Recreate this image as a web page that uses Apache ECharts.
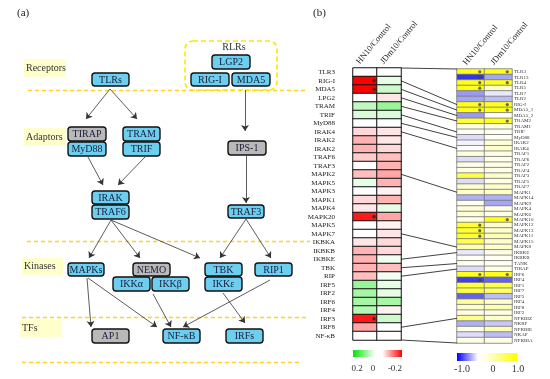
<!DOCTYPE html>
<html><head><meta charset="utf-8">
<script src="https://cdn.jsdelivr.net/npm/echarts@6/dist/echarts.min.js"></script>
<style>html,body{margin:0;padding:0;background:#fff}#c{width:550px;height:379px}</style>
</head><body><div id="c"></div>
<script>
// ---------- DATA ----------
const leftCols = ['HN10/Control', 'JDm10/Control'];
const leftGenes = ['TLR3','RIG-I','MDA5','LPG2','TRAM','TRIF','MyD88','IRAK4','IRAK2','IRAK2','TRAF6','TRAF3','MAPK2','MAPK5','MAPK3','MAPK1','MAPK4','MAPK20','MAPK5','MAPK7','IKBKA','IKBKB','IKBKE','TBK','RIP','IRF5','IRF2','IRF6','IRF4','IRF3','IRF8','NF-κB'];
const leftHN10  = [0,-0.2,-0.2,0,0.05,0.03,0,-0.03,-0.06,-0.06,-0.04,0,-0.05,0.02,0,-0.03,-0.02,-0.18,0,0,-0.02,-0.06,-0.06,-0.06,-0.05,0.08,0.07,0.07,0.06,-0.18,-0.07,0];
const leftJDm10 = [0,0.02,0.04,-0.02,0.08,0.03,0,-0.02,-0.02,-0.03,-0.05,-0.06,-0.07,-0.06,-0.01,-0.06,0.02,-0.07,-0.01,-0.02,-0.03,-0.03,0.01,-0.05,0.01,0.02,0.02,0.07,-0.01,0.04,0,0];
const leftStarsHN10 = [1,2,17,29];
const leftTicks = ['0.2','0','-0.2'];

const rightCols = ['HN10/Control', 'JDm10/Control'];
const rightGenes = ['TLR3','TLR13','TLR4','TLR5','TLR7','TLR2','RIG-I','MDA5_1','MDA5_2','TRAM2','TRAM1','TRIF','MyD88','IRAK2','IRAK4','TRAF1','TRAF6','TRAF2','TRAF4','TRAF3','TRAF5','TRAF7','MAPK1','MAPK14','MAPK9','MAPK4','MAPK6','MAPK10','MAPK12','MAPK13','MAPK11','MAPK15','MAPK8','IKBKE','IKBKB','TANK','TIRAP','IRF6','IRF4','IRF1','IRF7','IRF5','IRF4','IRF8','IRF2','NFKBIZ','NKRF','NFKBIE','NKAP','NFKBIA'];
const rightHN10  = [0.9,-0.9,0.9,0.9,-0.45,-0.4,0.9,0.9,-0.45,0.8,0.1,0.05,-0.15,-0.05,0,0.15,-0.15,0.1,0.1,0.7,-0.15,0.2,0.2,-0.35,0.05,0.15,0.15,0.1,0.8,0.8,0.8,0.7,0.3,-0.1,0.05,0.05,-0.15,0.9,-0.85,0.75,0.75,-0.7,0.4,0.2,0.1,0.45,-0.35,0.1,-0.15,0.1];
const rightJDm10 = [0.9,-0.4,0.9,0.2,-0.1,-0.3,0.9,0.9,0,0.9,0.1,0.05,0.05,0.15,0.2,0.1,0.1,0.1,0.1,0.2,0.1,0.2,0.2,-0.35,-0.4,0.1,0.1,0.9,0.2,0.2,0.3,0.2,0.2,0.1,0.05,0.05,0.1,0.9,-0.7,0.7,0.6,-0.3,0.2,0.3,0.1,0.2,-0.25,0.3,-0.3,0.1];
const rightStarsHN10 = [0,1,2,3,6,7,28,29,30,37,38];
const rightStarsJDm10 = [0,2,6,7,9,27,37];
const rightTicks = ['-1.0','0','1.0'];

// left row index -> right row index
const links = [[1,6],[2,7],[3,8],[4,9],[5,11],[6,12],[7,14],[12,22],[19,32],[22,33],[23,35],[24,36],[30,45]];

// pathway diagram
const diagramNodes = [['LGP2','b'],['RIG-I','b'],['MDA5','b'],['TLRs','b'],['TIRAP','g'],['MyD88','b'],['TRAM','b'],['TRIF','b'],['IPS-1','g'],['IRAK','b'],['TRAF6','b'],['TRAF3','b'],['MAPKs','b'],['NEMO','g'],['IKKα','b'],['IKKβ','b'],['TBK','b'],['IKKε','b'],['RIP1','b'],['AP1','g'],['NF-κB','b'],['IRFs','b']];
const stageLabels = ['Receptors','Adaptors','Kinases','TFs'];

// ---------- LAYOUT (positions only) ----------
const boxPos = {
  'LGP2':[212,55,38,14],'RIG-I':[191,73,38,13],'MDA5':[232,73,38,13],'TLRs':[92,73,37,13],
  'TIRAP':[68,127,38,14],'MyD88':[68,142,38,14],'TRAM':[123,127,37,14],'TRIF':[123,142,37,14],
  'IPS-1':[228,141,38,14],'IRAK':[92,191,37,13],'TRAF6':[92,205,37,14],'TRAF3':[228,205,36,13],
  'MAPKs':[68,263,36,13],'NEMO':[133,263,37,13],'IKKα':[113,277,37,14],'IKKβ':[152,277,37,14],
  'TBK':[205,263,37,13],'IKKε':[205,277,37,14],'RIP1':[255,263,37,13],
  'AP1':[92,329,37,14],'NF-κB':[163,329,37,14],'IRFs':[226,329,37,14]
};
const stagePos = {'Receptors':[24,59,42,18],'Adaptors':[24,128,42,18],'Kinases':[22,258,41,17],'TFs':[20,320,42,17]};
const arrowPaths = [
  [[110,89],[86,119]],[[110,89],[137,119]],[[245,90],[245,131]],
  [[88,157],[103,185]],[[145,157],[118,185]],[[246,156],[246,203]],
  [[111,220],[89,258]],[[111,220],[140,258]],[[111,220],[200,258]],
  [[246,219],[220,258]],[[246,219],[271,258]],
  [[87,278],[91,327]],[[88,278],[157,327]],[[153,294],[171,327]],
  [[270,280],[183,327]],[[223,293],[245,323]]
];
const dashPaths = [[[28,90],[305,90]],[[27,241],[310,241]],[[22,317],[308,317]],[[22,362],[302,362]]];

const SERIF = '"Liberation Serif","DejaVu Serif",serif';
const chart = echarts.init(document.getElementById('c'), null, {renderer:'canvas'});

const graphics = [];
graphics.push({type:'text', left:17, top:8, style:{text:'(a)', font:'11px '+SERIF, fill:'#222'}});
graphics.push({type:'text', left:313, top:8, style:{text:'(b)', font:'11px '+SERIF, fill:'#222'}});
graphics.push({type:'rect', shape:{x:185,y:41,width:92,height:49,r:8}, style:{fill:'none',stroke:'#FFE600',lineWidth:1.6,lineDash:[5,3]}, z:5});
graphics.push({type:'text', style:{x:234,y:47,text:'RLRs',textAlign:'center',textVerticalAlign:'middle',font:'10px '+SERIF,fill:'#333'}, z:6});
stageLabels.forEach(s => {
  const p = stagePos[s];
  graphics.push({type:'rect', shape:{x:p[0],y:p[1],width:p[2],height:p[3]}, style:{fill:'#FFFFCC'}, z:1});
  graphics.push({type:'text', style:{x:p[0]+2,y:p[1]+p[3]/2,text:s,textVerticalAlign:'middle',font:'10px '+SERIF,fill:'#333'}, z:2});
});
diagramNodes.forEach(([name, kind]) => {
  const p = boxPos[name];
  graphics.push({type:'rect', shape:{x:p[0],y:p[1],width:p[2],height:p[3],r:3}, style:{fill: kind==='b' ? '#6CCFF0' : '#B9B9B9', stroke:'#111', lineWidth:1.4}, z:10});
  graphics.push({type:'text', style:{x:p[0]+p[2]/2,y:p[1]+p[3]/2+0.5,text:name,textAlign:'center',textVerticalAlign:'middle',font:'10px '+SERIF,fill:'#1c1c3a'}, z:11});
});
graphics.push({type:'rect', shape:{x:353,y:350,width:49,height:7}, style:{fill:{type:'linear',x:0,y:0,x2:1,y2:0,colorStops:[{offset:0,color:'#00E600'},{offset:0.45,color:'#ffffff'},{offset:0.6,color:'#ffffff'},{offset:1,color:'#FF0000'}]}}});
[[357,leftTicks[0]],[373,leftTicks[1]],[395,leftTicks[2]]].forEach(([x,t]) => graphics.push({type:'text', style:{x:x,y:369,text:t,textAlign:'center',textVerticalAlign:'middle',font:'9px '+SERIF,fill:'#333'}}));
graphics.push({type:'rect', shape:{x:457,y:353,width:60,height:8}, style:{fill:{type:'linear',x:0,y:0,x2:1,y2:0,colorStops:[{offset:0,color:'#0000FF'},{offset:0.35,color:'#ffffff'},{offset:0.5,color:'#FFFFE0'},{offset:1,color:'#FFFF00'}]}}});
[[462,rightTicks[0]],[493,rightTicks[1]],[518,rightTicks[2]]].forEach(([x,t]) => graphics.push({type:'text', style:{x:x,y:369,text:t,textAlign:'center',textVerticalAlign:'middle',font:'10px '+SERIF,fill:'#333'}}));

function heatData(a, b){ const d=[]; a.forEach((v,i)=>d.push([0,i,v])); b.forEach((v,i)=>d.push([1,i,v])); return d; }

const option = {
  animation:false,
  backgroundColor:'#fff',
  graphic: graphics,
  grid:[
    {left:0,top:0,width:550,height:379},
    {left:353,top:68,width:48,height:272},
    {left:457,top:69,width:55,height:274}
  ],
  xAxis:[
    {gridIndex:0,type:'value',min:0,max:550,show:false},
    {gridIndex:1,type:'category',data:leftCols,position:'top',axisLine:{show:false},axisTick:{show:false},splitLine:{show:false},axisLabel:{show:false}},
    {gridIndex:2,type:'category',data:rightCols,position:'top',axisLine:{show:false},axisTick:{show:false},splitLine:{show:false},axisLabel:{show:false}}
  ],
  yAxis:[
    {gridIndex:0,type:'value',min:0,max:379,inverse:true,show:false},
    {gridIndex:1,type:'category',data:leftGenes,inverse:true,axisLine:{show:false},axisTick:{show:false},
     axisLabel:{interval:0,fontSize:7,fontFamily:SERIF,color:'#222',margin:18}},
    {gridIndex:2,type:'category',data:rightGenes,inverse:true,position:'right',axisLine:{show:false},axisTick:{show:false},
     axisLabel:{interval:0,fontSize:5,fontFamily:SERIF,color:'#333',margin:2}}
  ],
  visualMap:[
    {show:false,type:'continuous',min:-0.2,max:0.2,seriesIndex:0,inRange:{color:['#FF0000','#ffffff','#00E600']}},
    {show:false,type:'continuous',min:-1,max:1,seriesIndex:1,inRange:{color:['#1E1EE6','#ffffff','#FFFF00']}}
  ],
  series:[
    {type:'heatmap',xAxisIndex:1,yAxisIndex:1,data:heatData(leftHN10,leftJDm10),itemStyle:{borderColor:'#111',borderWidth:1}},
    {type:'heatmap',xAxisIndex:2,yAxisIndex:2,data:heatData(rightHN10,rightJDm10),itemStyle:{borderColor:'#777',borderWidth:0.8}},
    {type:'scatter',xAxisIndex:1,yAxisIndex:1,data:leftStarsHN10.map(i=>[0,i]),symbol:'circle',symbolSize:3.5,symbolOffset:[9,0],itemStyle:{color:'#222'},z:5},
    {type:'scatter',xAxisIndex:2,yAxisIndex:2,data:rightStarsHN10.map(i=>[0,i]).concat(rightStarsJDm10.map(i=>[1,i])),symbol:'circle',symbolSize:3.2,symbolOffset:[9,0],itemStyle:{color:'#444'},z:5},
    {type:'lines',coordinateSystem:'cartesian2d',xAxisIndex:0,yAxisIndex:0,data:arrowPaths.map(c=>({coords:c})),symbol:['none','arrow'],symbolSize:6,lineStyle:{color:'#333',width:0.8,opacity:1},z:3},
    {type:'lines',coordinateSystem:'cartesian2d',xAxisIndex:0,yAxisIndex:0,data:dashPaths.map(c=>({coords:c})),symbol:['none','none'],lineStyle:{color:'#FFD21F',width:1.3,type:[4,3],opacity:1},z:2},
    {id:'links',type:'lines',coordinateSystem:'cartesian2d',xAxisIndex:0,yAxisIndex:0,data:[],symbol:['none','none'],lineStyle:{color:'#111',width:0.8,opacity:1},z:4}
  ]
};
chart.setOption(option);

// connecting lines and column headers derived from the heatmap axes
const L0 = chart.convertToPixel({gridIndex:1},[0,0]), L1 = chart.convertToPixel({gridIndex:1},[1,0]);
const lHalf = (L1[0]-L0[0])/2, lEdge = L1[0]+lHalf;
const lRow = chart.convertToPixel({gridIndex:1},[0,1])[1]-L0[1];
const R0 = chart.convertToPixel({gridIndex:2},[0,0]), R1 = chart.convertToPixel({gridIndex:2},[1,0]);
const rHalf = (R1[0]-R0[0])/2, rEdge = R0[0]-rHalf;
const rRow = chart.convertToPixel({gridIndex:2},[0,1])[1]-R0[1];
const linkData = links.map(([a,b]) => ({coords:[[lEdge, chart.convertToPixel({gridIndex:1},[1,a])[1]], [rEdge, chart.convertToPixel({gridIndex:2},[0,b])[1]]]}));
const lTop = L0[1]-lRow/2, lBot = chart.convertToPixel({gridIndex:1},[0,leftGenes.length-1])[1]+lRow/2;
const rTop = R0[1]-rRow/2, rBot = chart.convertToPixel({gridIndex:2},[0,rightGenes.length-1])[1]+rRow/2;
linkData.push({coords:[[lEdge,lTop],[rEdge,rTop]]});
linkData.push({coords:[[lEdge,lBot],[rEdge,rBot]]});

const headers = [];
const ang = 50*Math.PI/180;
leftCols.forEach((c,i) => { const p = chart.convertToPixel({gridIndex:1},[i,0]);
  headers.push({type:'text', x:p[0]-7, y:lTop-5, rotation:ang, style:{text:c,textAlign:'left',textVerticalAlign:'middle',font:'8.5px '+SERIF,fill:'#222'}}); });
rightCols.forEach((c,i) => { const p = chart.convertToPixel({gridIndex:2},[i,0]);
  headers.push({type:'text', x:p[0]-6, y:rTop-5, rotation:ang, style:{text:c,textAlign:'left',textVerticalAlign:'middle',font:'8.5px '+SERIF,fill:'#222'}}); });

chart.setOption({series:[{id:'links',data:linkData}], graphic: graphics.concat(headers)});
</script>
</body></html>
